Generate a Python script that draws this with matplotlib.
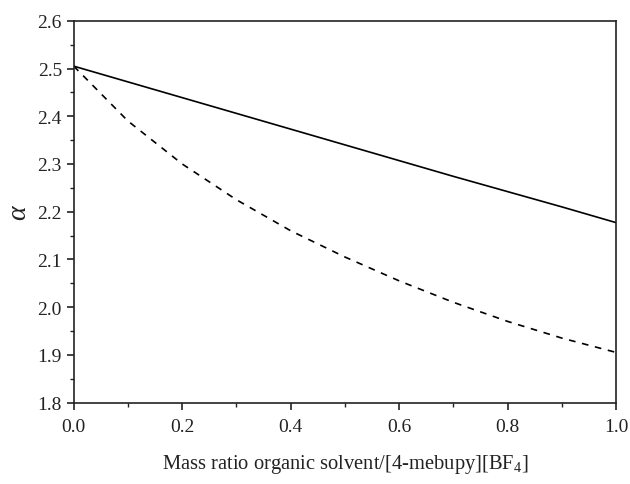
import matplotlib
matplotlib.use("Agg")
import matplotlib.pyplot as plt
from matplotlib.ticker import MultipleLocator

mass_ratio = [0.0, 0.1, 0.2, 0.3, 0.4, 0.5, 0.6, 0.7, 0.8, 0.9, 1.0]
alpha_solid = [2.505, 2.472, 2.439, 2.406, 2.373, 2.340, 2.307, 2.274, 2.242, 2.210, 2.177]
alpha_dashed = [2.505, 2.390, 2.300, 2.225, 2.160, 2.105, 2.055, 2.010, 1.970, 1.935, 1.905]

xticks = [0.0, 0.2, 0.4, 0.6, 0.8, 1.0]
yticks = [1.8, 1.9, 2.0, 2.1, 2.2, 2.3, 2.4, 2.5, 2.6]

plt.rcParams['font.family'] = ['Liberation Serif', 'DejaVu Serif']
plt.rcParams['mathtext.fontset'] = 'custom'
plt.rcParams['mathtext.rm'] = 'Liberation Serif'
plt.rcParams['mathtext.it'] = 'Liberation Serif:italic'

fig = plt.figure(figsize=(6.3, 4.85), dpi=100)
ax = fig.add_axes([0.117, 0.168, 0.861, 0.787])

ax.plot(mass_ratio, alpha_solid, color='black', lw=1.2, ls='-')
ax.plot(mass_ratio, alpha_dashed, color='black', lw=1.2, ls=(0, (4, 4)))

ax.set_xlim(0, 1.0)
ax.set_ylim(1.8, 2.6)
ax.set_xticks(xticks)
ax.set_yticks(yticks)
ax.set_xticklabels([f"{v:.1f}" for v in xticks])
ax.set_yticklabels([f"{v:.1f}" for v in yticks])
ax.xaxis.set_minor_locator(MultipleLocator(0.1))
ax.yaxis.set_minor_locator(MultipleLocator(0.05))
ax.tick_params(which='major', direction='out', length=5, width=1.2, labelsize=14, colors='#222222')
ax.tick_params(axis='x', which='major', pad=6.5)
ax.tick_params(which='minor', direction='out', length=3, width=1.0, colors='#222222')
for s in ax.spines.values():
    s.set_linewidth(1.2)
    s.set_color('#222222')

ax.set_xlabel('Mass ratio organic solvent/[4-mebupy][BF$_4$]', fontsize=14.8, color='#222222', labelpad=12)
ax.set_ylabel(r'$\alpha$', fontsize=20, color='#222222', labelpad=4)

fig.savefig('out.png', dpi=100)
